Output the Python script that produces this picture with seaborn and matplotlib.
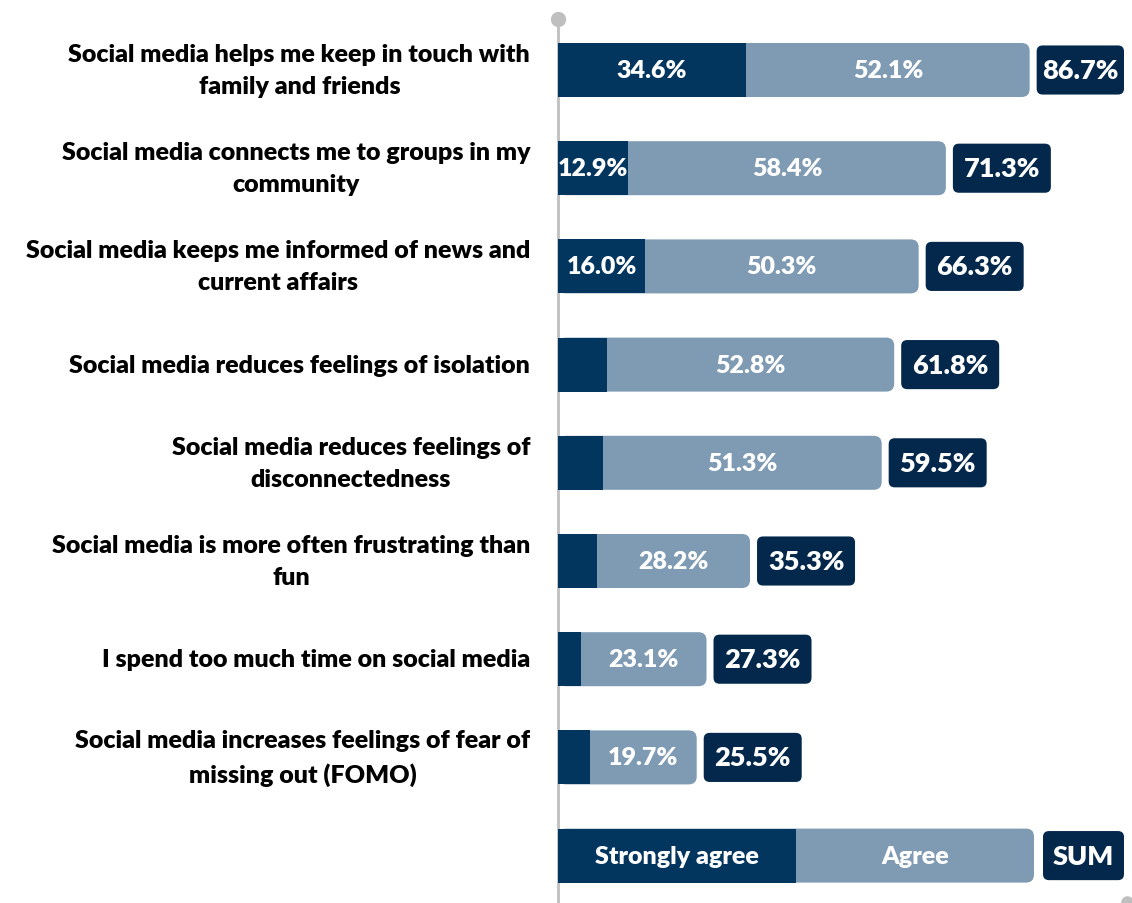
import matplotlib
matplotlib.use("Agg")
import matplotlib.pyplot as plt
from matplotlib.patches import FancyBboxPatch
import pandas as pd
import seaborn as sns

# Survey statements (top to bottom) and shares in percent
statements = [
    "Social media helps me keep in touch with\nfamily and friends",
    "Social media connects me to groups in my\ncommunity",
    "Social media keeps me informed of news and\ncurrent affairs",
    "Social media reduces feelings of isolation",
    "Social media reduces feelings of\ndisconnectedness",
    "Social media is more often frustrating than\nfun",
    "I spend too much time on social media",
    "Social media increases feelings of fear of\nmissing out (FOMO)",
]
strongly_agree = [34.6, 12.9, 16.0, 9.0, 8.2, 7.1, 4.2, 5.8]
agree = [52.1, 58.4, 50.3, 52.8, 51.3, 28.2, 23.1, 19.7]
total = [86.7, 71.3, 66.3, 61.8, 59.5, 35.3, 27.3, 25.5]
show_strong_label = [True, True, True, False, False, False, False, False]
legend_labels = ["Strongly agree", "Agree", "SUM"]

C_STRONG = "#03365f"
C_AGREE = "#7f9bb3"
C_SUM = "#03284b"
C_AXIS = "#bfbfbf"
WEIGHT = "heavy"

df = pd.DataFrame({"statement": statements, "strong": strongly_agree,
                   "agree": agree, "total": total})

sns.set_theme(style="white")
plt.rcParams["font.family"] = ["Lato", "DejaVu Sans"]

W, H = 1132, 904
fig = plt.figure(figsize=(W / 100, H / 100), dpi=100)
left_px = 558
ax = fig.add_axes([left_px / W, 0, (W - left_px) / W, 1])

XMAX = (W - left_px) / 5.44
row_px = 98.2
first_px = 71
YLIM = ((H - first_px) / row_px, -first_px / row_px)

BAR_H = 0.55
px_x = XMAX / (W - left_px)          # data units per pixel, x
px_y = (H / row_px) / H              # data units per pixel, y
aspect = px_y / px_x

# Full bar (strongly agree + agree) in the light colour
sns.barplot(data=df, y="statement", x="total", color=C_AGREE, width=BAR_H,
            orient="h", ax=ax, saturation=1, errorbar=None)


def rounded(patch_xy, w, h, color, radius_px=8):
    return FancyBboxPatch(patch_xy, w, h,
                          boxstyle=f"round,pad=0,rounding_size={radius_px * px_x}",
                          mutation_aspect=aspect, facecolor=color,
                          edgecolor="none", linewidth=0, zorder=2)


for p in list(ax.patches):
    x0, y0, w, h = p.get_x(), p.get_y(), p.get_width(), p.get_height()
    p.remove()
    ax.add_patch(rounded((x0, y0), w, h, C_AGREE))

# Strongly agree segment on top
sns.barplot(data=df, y="statement", x="strong", color=C_STRONG, width=BAR_H,
            orient="h", ax=ax, saturation=1, errorbar=None)
for p in ax.patches:
    p.set_zorder(3)
    if not isinstance(p, FancyBboxPatch):
        p.set_edgecolor("none")
        p.set_linewidth(0)

lab_kw = dict(color="white", fontsize=18, fontweight=WEIGHT,
              va="center", ha="center", zorder=5)
sum_kw = dict(color="white", fontsize=19.5, fontweight=WEIGHT,
              va="center", ha="center", zorder=5)
GAP = 7 * px_x
SUM_W = 98 * px_x
RIGHT_LIMIT = (1124 - left_px) * px_x
SUM_H = 0.50

for i, (s, a, t, show) in enumerate(zip(strongly_agree, agree, total,
                                        show_strong_label)):
    if show:
        ax.text(s / 2, i, f"{s:.1f}%", **lab_kw)
    ax.text(s + a / 2, i, f"{a:.1f}%", **lab_kw)
    x0 = t + GAP
    w = min(SUM_W, RIGHT_LIMIT - x0)
    ax.add_patch(rounded((x0, i - SUM_H / 2), w, SUM_H, C_SUM, radius_px=6))
    ax.text(x0 + w / 2, i, f"{t:.1f}%", **sum_kw)

# Legend row drawn as its own bar
leg_y = len(statements)
leg_span = 238 * px_x
ax.add_patch(rounded((0, leg_y - BAR_H / 2), 2 * leg_span, BAR_H, C_AGREE))
ax.barh([leg_y], [leg_span], height=BAR_H, color=C_STRONG, zorder=3,
        linewidth=0)
ax.text(leg_span / 2, leg_y, legend_labels[0], **lab_kw)
ax.text(leg_span * 1.5, leg_y, legend_labels[1], **lab_kw)
lx0 = 2 * leg_span + 9 * px_x
lw = RIGHT_LIMIT - lx0
ax.add_patch(rounded((lx0, leg_y - SUM_H / 2), lw, SUM_H, C_SUM, radius_px=6))
ax.text(lx0 + lw / 2, leg_y, legend_labels[2], **sum_kw)

# Category labels
ax.set_yticks(range(len(statements)))
ax.set_yticklabels(statements, fontsize=18, fontweight=WEIGHT, color="black",
                   linespacing=1.55, va="center")
for t in ax.get_yticklabels():
    t.set_multialignment("center")
ax.tick_params(axis="y", length=0, pad=20)
ax.set_xticks([])
ax.set_xlabel("")
ax.set_ylabel("")
ax.set_xlim(0, XMAX)
ax.set_ylim(*YLIM)
for sp in ax.spines.values():
    sp.set_visible(False)

# Vertical baseline with end dots
top_frac = 1 - 20 / H
ax.plot([0, 0], [0, top_frac], color=C_AXIS, lw=2, transform=ax.transAxes,
        clip_on=False, zorder=1)
ax.plot([0], [top_frac], marker="o", ms=11, color=C_AXIS, mec="none",
        transform=ax.transAxes, clip_on=False, zorder=1)
ax.plot([(1127 - left_px) / (W - left_px)], [1 - 903 / H], marker="o", ms=9,
        color=C_AXIS, mec="none", transform=ax.transAxes, clip_on=False,
        zorder=1)

fig.savefig("out.png", dpi=100)
